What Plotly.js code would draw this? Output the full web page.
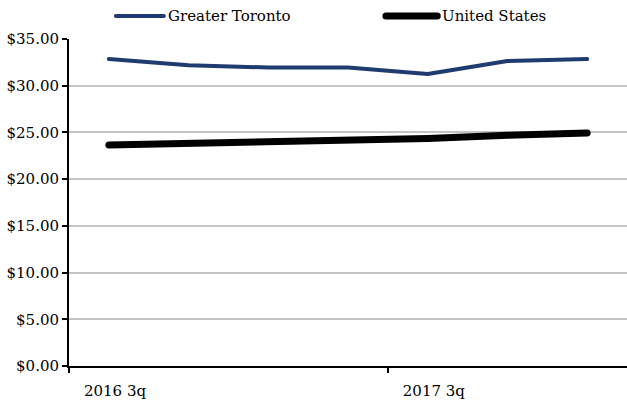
<!DOCTYPE html>
<html>
<head>
<meta charset="utf-8">
<script src="https://cdn.plot.ly/plotly-3.0.1.min.js"></script>
<style>
  html, body { margin: 0; padding: 0; background: #fff; }
  #chart { width: 627px; height: 400px; }
  /* rounded ends on series lines and legend samples */
  #chart .scatterlayer path.js-line,
  #chart .layer-above .shapelayer path {
    stroke-linecap: round;
    stroke-linejoin: round;
  }
</style>
</head>
<body>
<div id="chart"></div>
<script>
// Quarterly average hourly wage, seven quarters from 2016 3q
const quarters = ["2016 3q", "2016 4q", "2017 1q", "2017 2q", "2017 3q", "2017 4q", "2018 1q"];
const torontoWage = [32.85, 32.2, 31.95, 31.95, 31.25, 32.65, 32.85];
const usWage = [23.65, 23.85, 24.0, 24.1, 24.35, 24.7, 24.95];
const seriesNames = ["Greater Toronto", "United States"];
const labelQuarters = ["2016 3q", "2017 3q"];

const TORONTO_COLOR = "#1f3b70";
const US_COLOR = "#000000";
const FONT = "DejaVu Serif, serif";

const idx = quarters.map((_, i) => i);
// category boundaries that carry a tick and a label
const labelIdx = labelQuarters.map(q => quarters.indexOf(q) - 0.5);

const traces = [
  {
    x: idx, y: torontoWage, name: seriesNames[0], type: "scatter", mode: "lines",
    line: { color: TORONTO_COLOR, width: 4 }, showlegend: false
  },
  {
    x: idx, y: usWage, name: seriesNames[1], type: "scatter", mode: "lines",
    line: { color: US_COLOR, width: 7 }, showlegend: false
  }
];

// hand-built legend above the plot area
const legendY = 1.07;
const legendItems = [
  { x0: 0.084, x1: 0.170, color: TORONTO_COLOR, width: 4, text: seriesNames[0] },
  { x0: 0.568, x1: 0.660, color: US_COLOR, width: 7, text: seriesNames[1] }
];
const shapes = legendItems.map(it => ({
  type: "line", xref: "paper", yref: "paper",
  x0: it.x0, x1: it.x1, y0: legendY, y1: legendY,
  line: { color: it.color, width: it.width }
}));
const annotations = legendItems.map(it => ({
  xref: "paper", yref: "paper", x: it.x1 + 0.004, y: legendY,
  xanchor: "left", yanchor: "middle", showarrow: false,
  text: it.text, font: { family: FONT, size: 15, color: "#000" }
}));

const layout = {
  width: 627, height: 400,
  margin: { l: 69, r: 0, t: 39, b: 34 },
  paper_bgcolor: "#fff", plot_bgcolor: "#fff",
  showlegend: false,
  font: { family: FONT, size: 15, color: "#000" },
  xaxis: {
    range: [-0.5, quarters.length - 0.5],
    tickmode: "array", tickvals: labelIdx, ticktext: labelQuarters,
    ticks: "outside", ticklen: 5, tickwidth: 2, tickcolor: "#000",
    ticklabelshift: 46, ticklabelstandoff: 5,
    showline: true, linecolor: "#000", linewidth: 2,
    showgrid: false, zeroline: false, fixedrange: true
  },
  yaxis: {
    range: [0, 35], dtick: 5, tick0: 0,
    tickprefix: "$", tickformat: ".2f",
    ticks: "outside", ticklen: 5, tickwidth: 2, tickcolor: "#000",
    showline: true, linecolor: "#000", linewidth: 2,
    showgrid: true, gridcolor: "#c4c4c4", gridwidth: 2,
    zeroline: false, fixedrange: true
  },
  shapes: shapes,
  annotations: annotations
};

Plotly.newPlot("chart", traces, layout, { displayModeBar: false, staticPlot: true });
</script>
</body>
</html>
